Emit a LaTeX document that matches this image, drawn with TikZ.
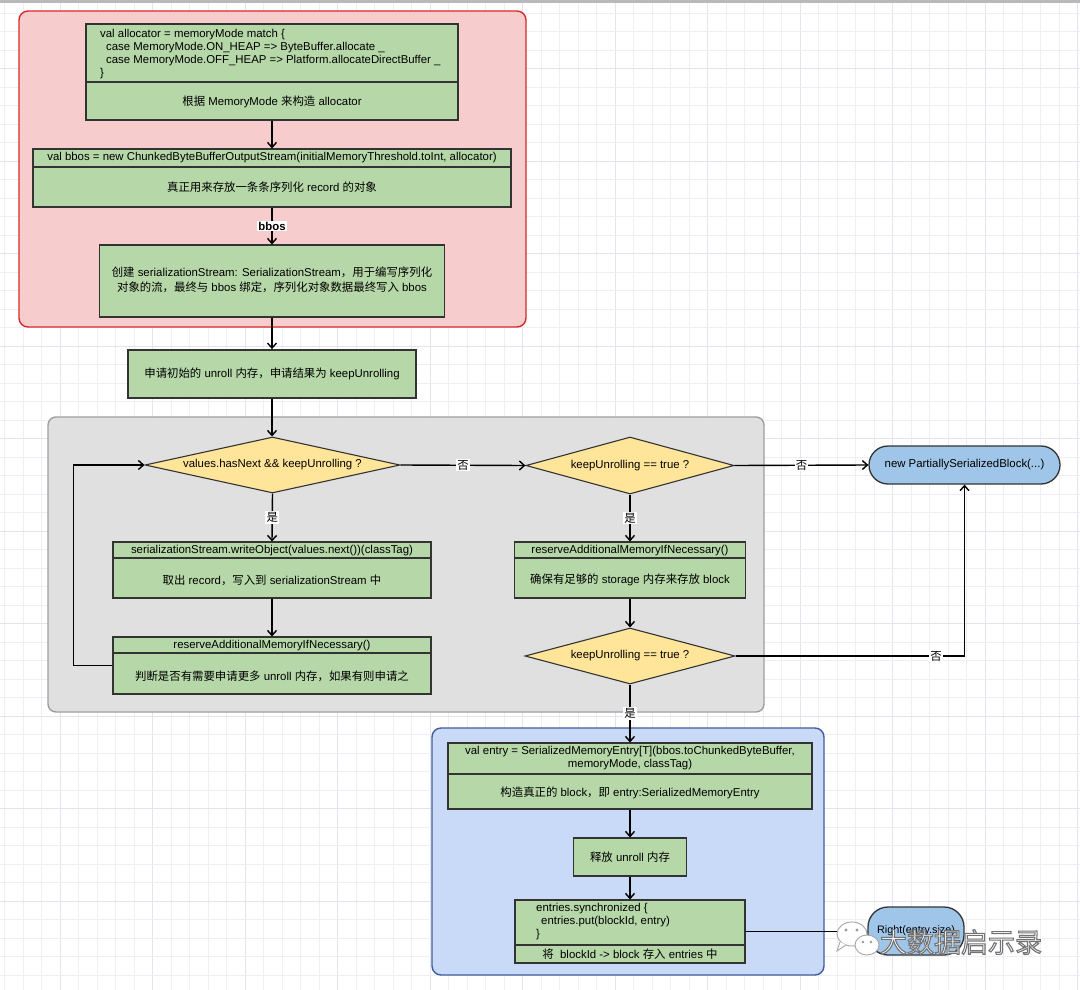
\documentclass[tikz,border=0pt]{standalone}
\usepackage{fontspec}
\setmainfont{Liberation Sans}
\newfontfamily\cjkfont{Noto Sans CJK SC}
\XeTeXinterchartokenstate=1
\newXeTeXintercharclass\cjkcls
\makeatletter
\count@="3000
\loop\ifnum\count@<"3040 \XeTeXcharclass\count@=\cjkcls \advance\count@ 1 \repeat
\count@="4E00
\loop\ifnum\count@<"A000 \XeTeXcharclass\count@=\cjkcls \advance\count@ 1 \repeat
\count@="FF00
\loop\ifnum\count@<"FFF0 \XeTeXcharclass\count@=\cjkcls \advance\count@ 1 \repeat
\makeatother
\XeTeXinterchartoks 0 \cjkcls = {\begingroup\cjkfont}
\XeTeXinterchartoks 4095 \cjkcls = {\begingroup\cjkfont}
\XeTeXinterchartoks \cjkcls 0 = {\endgroup}
\XeTeXinterchartoks \cjkcls 4095 = {\endgroup}
\usetikzlibrary{shapes.geometric,arrows.meta}
\definecolor{gridc}{HTML}{EEEEF7}
\definecolor{gridm}{HTML}{E4E4F0}
\definecolor{redfill}{HTML}{F6CDCC}
\definecolor{redline}{HTML}{D42B2B}
\definecolor{grayfill}{HTML}{E0E0E0}
\definecolor{grayline}{HTML}{9E9E9E}
\definecolor{bluefill}{HTML}{C9DAF8}
\definecolor{blueline}{HTML}{3F5E99}
\definecolor{gfill}{HTML}{B6D7A8}
\definecolor{yfill}{HTML}{FFE599}
\definecolor{tfill}{HTML}{9FC5E8}
\definecolor{edge}{HTML}{333333}
\begin{document}
\begin{tikzpicture}[x=1pt,y=-1pt,
  every node/.style={font=\fontsize{11.4}{13.5}\selectfont},
  grp/.style={draw=#1, line width=1.4pt, rounded corners=9pt, inner sep=0pt},
  gbox/.style={draw=edge, fill=gfill, line width=1.1pt, inner sep=0pt},
  divl/.style={draw=edge, line width=1.1pt},
  txt/.style={inner sep=0pt, align=center},
  dia/.style={diamond, draw=edge, fill=yfill, line width=1.1pt, inner sep=0pt, shape aspect=4.5},
  term/.style={draw=edge, fill=tfill, line width=1.3pt, inner sep=0pt},
  arr/.style={draw=black, line width=1.4pt, -{Straight Barb[length=5pt,width=9pt]}},
  lbl/.style={fill=white, inner sep=1.2pt, font=\fontsize{11.4}{13}\selectfont}]
\useasboundingbox (0,0) rectangle (1080,990);
\fill[white] (0,0) rectangle (1080,990);
% grid
\foreach \i in {0,...,58} {
  \pgfmathtruncatemacro{\m}{mod(\i,5)}
  \ifnum\m=3 \draw[gridm, line width=0.8pt] ({4.7+18.5*\i},0) -- ({4.7+18.5*\i},990);
  \else \draw[gridc, line width=0.7pt] ({4.7+18.5*\i},0) -- ({4.7+18.5*\i},990); \fi
}
\foreach \j in {0,...,53} {
  \pgfmathtruncatemacro{\m}{mod(\j,5)}
  \ifnum\m=3 \draw[gridm, line width=0.8pt] (0,{13.3+18.5*\j}) -- (1080,{13.3+18.5*\j});
  \else \draw[gridc, line width=0.7pt] (0,{13.3+18.5*\j}) -- (1080,{13.3+18.5*\j}); \fi
}
\draw[gray!55, line width=2.5pt] (0,1.5) -- (1080,1.5);

% containers
\node[grp=redline, fill=redfill, minimum width=507pt, minimum height=316pt] (gred) at (272.5,169) {};
\node[grp=grayline, fill=grayfill, minimum width=716pt, minimum height=295pt, rounded corners=8pt] (ggray) at (406,564.5) {};
\node[grp=blueline, fill=bluefill, minimum width=392pt, minimum height=247pt] (gblue) at (628,851.5) {};

% box 1
\node[gbox, minimum width=372pt, minimum height=96pt] (b1) at (272,72) {};
\draw[divl] (b1.west |- 0,82) -- (b1.east |- 0,82);
\node[txt, align=left, anchor=west, font=\fontsize{11.4}{12.8}\selectfont] (b1t) at (100,54) {val allocator = memoryMode match \{\\
\hspace*{6pt}case MemoryMode.ON\_HEAP => ByteBuffer.allocate \_\\
\hspace*{6pt}case MemoryMode.OFF\_HEAP => Platform.allocateDirectBuffer \_\\
\}};
\node[txt] (b1b) at (272,102) {根据 MemoryMode 来构造 allocator};

% box 2
\node[gbox, minimum width=478pt, minimum height=58pt] (b2) at (272,178) {};
\draw[divl] (b2.west |- 0,167) -- (b2.east |- 0,167);
\node[txt] (b2t) at (272,158) {val bbos = new ChunkedByteBufferOutputStream(initialMemoryThreshold.toInt, allocator)};
\node[txt] (b2b) at (272,187) {真正用来存放一条条序列化 record 的对象};

% box 3
\node[gbox, minimum width=345pt, minimum height=72pt] (b3) at (272,281) {};
\node[txt, font=\fontsize{11.4}{14.5}\selectfont] (b3t) at (272,280) {创建 serializationStream: SerializationStream，用于编写序列化\\对象的流，最终与 bbos 绑定，序列化对象数据最终写入 bbos};

% box 4
\node[gbox, line width=1.8pt, minimum width=288pt, minimum height=48pt] (b4) at (272,374) {申请初始的 unroll 内存，申请结果为 keepUnrolling};

% diamonds
\node[dia, minimum width=255pt, minimum height=56pt] (d1) at (272.5,465) {values.hasNext \&\& keepUnrolling ?};
\node[dia, minimum width=208pt, minimum height=57pt] (d2) at (630,465.5) {keepUnrolling == true ?};
\node[dia, minimum width=210pt, minimum height=56pt] (d3) at (630,656) {keepUnrolling == true ?};

% terminal 1
\node[term, rounded corners=19pt, minimum width=191pt, minimum height=38pt] (t1) at (964.5,465) {new PartiallySerializedBlock(...)};

% box 5
\node[gbox, minimum width=318pt, minimum height=56pt] (b5) at (272,570) {};
\draw[divl] (b5.west |- 0,558) -- (b5.east |- 0,558);
\node[txt] (b5t) at (272,550.5) {serializationStream.writeObject(values.next())(classTag)};
\node[txt] (b5b) at (272,580) {取出 record，写入到 serializationStream 中};

% box 6
\node[gbox, minimum width=318pt, minimum height=57pt] (b6) at (272,665.5) {};
\draw[divl] (b6.west |- 0,653) -- (b6.east |- 0,653);
\node[txt] (b6t) at (272,645.5) {reserveAdditionalMemoryIfNecessary()};
\node[txt] (b6b) at (272,676) {判断是否有需要申请更多 unroll 内存，如果有则申请之};

% box 7
\node[gbox, minimum width=231pt, minimum height=56pt] (b7) at (630,570) {};
\draw[divl] (b7.west |- 0,558) -- (b7.east |- 0,558);
\node[txt] (b7t) at (630,550.5) {reserveAdditionalMemoryIfNecessary()};
\node[txt] (b7b) at (630,580) {确保有足够的 storage 内存来存放 block};

% box 8
\node[gbox, minimum width=364pt, minimum height=66pt] (b8) at (630,776) {};
\draw[divl] (b8.west |- 0,774) -- (b8.east |- 0,774);
\node[txt, font=\fontsize{11.4}{12.8}\selectfont] (b8t) at (630,758) {val entry = SerializedMemoryEntry[T](bbos.toChunkedByteBuffer,\\memoryMode, classTag)};
\node[txt] (b8b) at (630,793) {构造真正的 block，即 entry:SerializedMemoryEntry};

% box 9
\node[gbox, minimum width=113pt, minimum height=38pt] (b9) at (630,857) {释放 unroll 内存};

% box 10
\node[gbox, minimum width=230pt, minimum height=63pt] (b10) at (630,931.5) {};
\draw[divl] (b10.west |- 0,945) -- (b10.east |- 0,945);
\node[txt, align=left, anchor=west, font=\fontsize{11.4}{13}\selectfont] (b10t) at (536,922) {entries.synchronized \{\\
\hspace*{5pt}entries.put(blockId, entry)\\
\}};
\node[txt] (b10b) at (630,954) {将\ \ blockId -> block 存入 entries 中};

% terminal 2
\node[term, rounded corners=20pt, minimum width=96pt, minimum height=48pt, font=\fontsize{10.8}{12}\selectfont] (t2) at (916,931) {Right(entry.size)};

% connectors
\draw[arr] (b1.south) -- (b2.north);
\draw[arr] (b2.south) -- node[lbl, font=\fontsize{11.4}{13}\selectfont\bfseries] (lbbos) {bbos} (b3.north);
\draw[arr] (b3.south) -- (b4.north);
\draw[arr] (b4.south) -- (b4.south |- d1.north);
\draw[arr] (d1.east) -- node[lbl] (l1) {否} (d2.west);
\draw[arr] (d2.east) -- node[lbl] (l2) {否} (t1.west);
\draw[arr] (d1.south) -- node[lbl] (l3) {是} (b5.north);
\draw[arr] (b5.south) -- (b6.north);
\draw[arr] (b6.west) -- ++(-39,0) |- (d1.west);
\draw[arr] (d2.south) -- node[lbl] (l4) {是} (b7.north);
\draw[arr] (b7.south) -- (d3.north);
\draw[arr] (d3.east) -- node[lbl, pos=0.876] (l5) {否} (t1.south |- d3.east) -- (t1.south);
\draw[arr] (d3.south) -- node[lbl] (l6) {是} (b8.north);
\draw[arr] (b8.south) -- (b9.north);
\draw[arr] (b9.south) -- (b10.north);
\draw[arr] (b10.east) -- (b10.east -| t2.west);

% watermark
\begin{scope}[gray!70, line width=0.9pt]
\draw[fill=white] (852,934) ellipse [x radius=15, y radius=12];
\draw[fill=white] (840,942) -- (837,951) -- (846,945);
\fill[gray!80] (846,930) circle (1.6);
\fill[gray!80] (857,930) circle (1.6);
\draw[fill=white] (867,945) ellipse [x radius=12, y radius=10];
\fill[gray!80] (863,942) circle (1.3);
\fill[gray!80] (871,942) circle (1.3);
\end{scope}
\node[inner sep=0pt, text=white, font=\fontsize{27}{30}\selectfont] (wm) at (961,942) {\special{pdf:literal direct 2 Tr 1.1 w 0.45 G}大数据启示录\special{pdf:literal direct 0 Tr}};
\end{tikzpicture}
\end{document}
